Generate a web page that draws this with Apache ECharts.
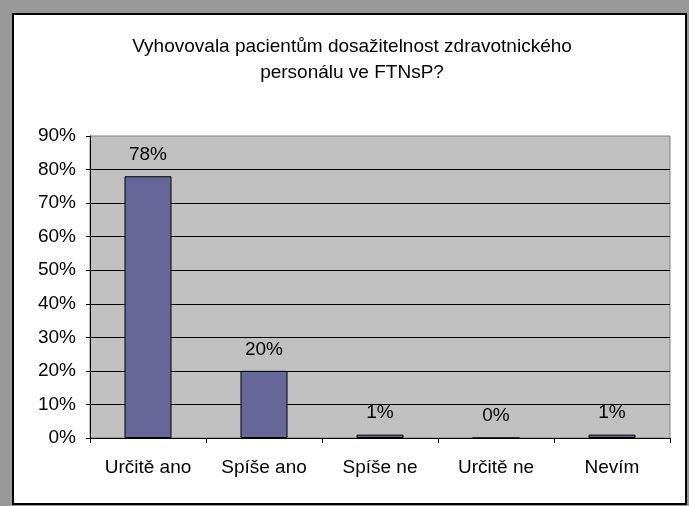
<html>
    <head>
        <meta charset="utf-8">
        <script src="https://cdn.jsdelivr.net/npm/echarts@6/dist/echarts.min.js"></script>
        <style>
            html, body {
                margin: 0;
                padding: 0;
                background: #999999;
            }
            #frame {
                position: absolute;
                left: 12px;
                top: 13px;
                width: 671px;
                height: 488px;
                background: #fff;
                border: 2px solid #000;
            }
            #chart {
                position: absolute;
                left: 0;
                top: 0;
                width: 689px;
                height: 506px;
            }
        </style>
    </head>
    <body>
        <div id="frame"></div>
        <div id="chart"></div>

        <script>
        var categories = ['Určitě ano', 'Spíše ano', 'Spíše ne', 'Určitě ne', 'Nevím'];
        var values = [78, 20, 1, 0, 1];
        var yTicks = [0, 10, 20, 30, 40, 50, 60, 70, 80, 90];

        var font = '"Liberation Sans", Arial, sans-serif';

        var myChart = echarts.init(document.getElementById('chart'));

        var option = {
            animation: false,
            title: {
                text: 'Vyhovovala pacientům dosažitelnost zdravotnického\npersonálu ve FTNsP?',
                left: 347,
                top: 29,
                textAlign: 'center',
                textStyle: {
                    fontFamily: font,
                    fontSize: 19,
                    fontWeight: 'normal',
                    color: '#000',
                    lineHeight: 26
                }
            },
            grid: {
                left: 90,
                right: 19,
                top: 136,
                bottom: 68,
                show: true,
                backgroundColor: '#c0c0c0',
                borderColor: '#808080',
                borderWidth: 1
            },
            xAxis: {
                type: 'category',
                data: categories,
                axisLine: { lineStyle: { color: '#000', width: 1 } },
                axisTick: { show: true, length: 5, lineStyle: { color: '#000' } },
                axisLabel: {
                    fontFamily: font,
                    fontSize: 19,
                    color: '#000',
                    margin: 20
                }
            },
            yAxis: {
                type: 'value',
                min: yTicks[0],
                max: yTicks[yTicks.length - 1],
                interval: 10,
                axisLine: { show: true, lineStyle: { color: '#000', width: 1 } },
                axisTick: { show: true, length: 4, lineStyle: { color: '#000' } },
                axisLabel: {
                    fontFamily: font,
                    fontSize: 19,
                    color: '#000',
                    margin: 14,
                    formatter: '{value}%'
                },
                splitLine: {
                    show: true,
                    showMaxLine: false,
                    lineStyle: { color: '#000', width: 1 }
                }
            },
            series: [{
                type: 'bar',
                data: values,
                barWidth: 47,
                itemStyle: {
                    color: '#666699',
                    borderColor: '#000',
                    borderWidth: 1
                },
                label: {
                    show: true,
                    position: 'top',
                    distance: 12,
                    formatter: '{c}%',
                    fontFamily: font,
                    fontSize: 19,
                    color: '#000'
                }
            }]
        };

        myChart.setOption(option);
        </script>
    </body>
</html>
